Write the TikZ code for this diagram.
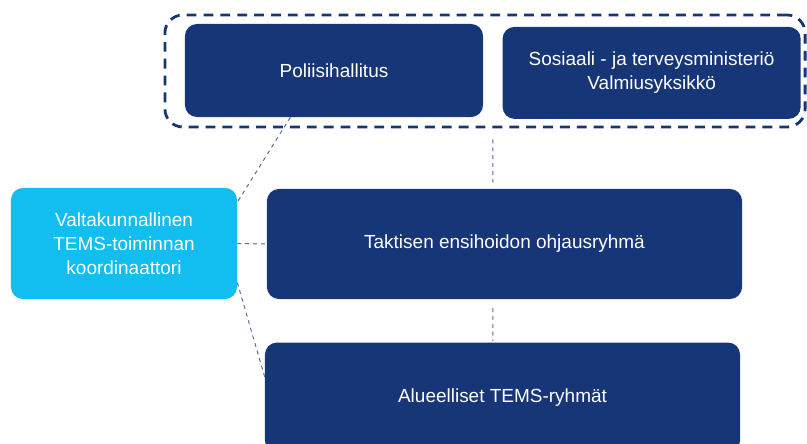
\documentclass[tikz,border=0pt]{standalone}
\usepackage{fontspec}
\setmainfont{Liberation Sans}
\usetikzlibrary{positioning}
\definecolor{navy}{RGB}{23,54,120}
\definecolor{skyblue}{RGB}{18,189,240}
\definecolor{linkgray}{RGB}{88,108,155}

\begin{document}
\begin{tikzpicture}[x=0.025cm,y=-0.025cm,
  unit/.style={fill=navy,text=white,rounded corners=0.3cm,align=center,
    inner sep=0pt,font=\fontsize{13.5}{17.2}\selectfont},
  lead/.style={unit,fill=skyblue},
  grp/.style={draw=navy,line width=2pt,dash pattern=on 7pt off 5pt,rounded corners=0.45cm},
  link/.style={draw=linkgray,line width=0.7pt,dash pattern=on 2.8pt off 2.8pt}
  ]
  \useasboundingbox (0,0) rectangle (807,444);

  % ministries
  \node[grp,minimum width=16cm,minimum height=2.8cm] (NGroup) at (485,71) {};
  \node[unit,minimum width=7.45cm,minimum height=2.325cm] (NPolice) at (334,70.5) {Poliisihallitus};
  \node[unit,minimum width=7.45cm,minimum height=2.3cm,right=0.475cm of NPolice,yshift=-0.06cm] (NMinistry)
    {Sosiaali - ja terveysministeriö\\Valmiusyksikkö};

  % coordinator and groups
  \node[lead,minimum width=5.65cm,minimum height=2.775cm] (NLead) at (124,243.5)
    {Valtakunnallinen\\TEMS-toiminnan\\koordinaattori};
  \node[unit,minimum width=11.875cm,minimum height=2.75cm] (NSteer) at (504.5,244)
    {Taktisen ensihoidon ohjausryhmä};
  \node[unit,minimum width=11.875cm,minimum height=2.75cm,below=1.075cm of NSteer,xshift=-0.05cm] (NRegion)
    {Alueelliset TEMS-ryhmät};

  \draw[link] (NPolice.227) -- (NLead.20);
  \draw[link] (NLead.east) -- (NSteer.west);
  \draw[link] (NLead.-19) -- (NRegion.175);
  \draw[link,shorten <=0.275cm,shorten >=0.15cm]
    ([xshift=0.2cm]NGroup.south) -- ([xshift=-0.29cm]NSteer.north);
  \draw[link,shorten <=0.22cm,shorten >=0.03cm]
    ([xshift=-0.29cm]NSteer.south) -- ([xshift=-0.24cm]NRegion.north);
\end{tikzpicture}
\end{document}
